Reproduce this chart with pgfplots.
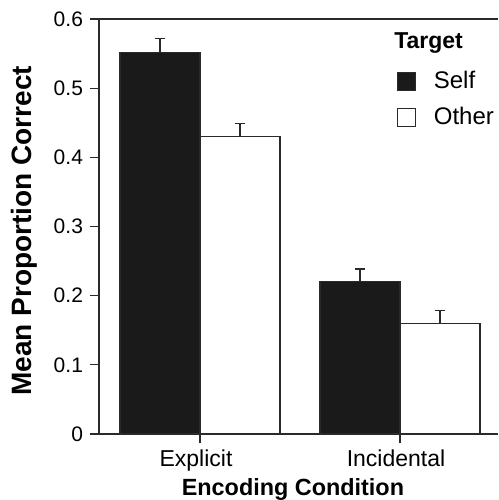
\documentclass[border=0pt]{standalone}
\usepackage{pgfplots}
\pgfplotsset{compat=1.18}
\usepackage{fontspec}
\setmainfont{Liberation Sans}
\definecolor{barblack}{HTML}{1A1A1A}
\definecolor{axgray}{HTML}{2A2A2A}
\pgfplotsset{sqlegend/.style={legend image code/.code={\draw[##1, line width=0.6pt] (0pt,-4.5pt) rectangle (9pt,4.5pt);}}}
\begin{document}
\begin{tikzpicture}[font=\fontsize{11}{13}\selectfont]
\begin{axis}[
  scale only axis, width=199.5pt, height=207.5pt,
  xmin=-0.505, xmax=1.49, ymin=0, ymax=0.6,
  axis x line*=bottom, axis y line*=left,
  axis line style={axgray, line width=0.6pt, -},
  ybar=0pt, bar width=0.4,
  xtick={0,1}, xticklabels={Explicit,Incidental},
  ytick={0,0.1,0.2,0.3,0.4,0.5,0.6},
  yticklabel style={/pgf/number format/fixed, /pgf/number format/precision=1, font=\fontsize{10.5}{12}\selectfont},
  xticklabel style={font=\fontsize{11.5}{13}\selectfont, xshift=-2pt},
  /pgf/number format/assume math mode=true,
  tick align=outside, major tick length=4.5pt,
  tick style={axgray, line width=0.6pt},
  xlabel={\textbf{Encoding Condition}},
  ylabel={\textbf{Mean Proportion Correct}},
  xlabel style={at={(axis description cs:0.486,0)}, anchor=base, yshift=-30.5pt, font=\fontsize{11.7}{13}\selectfont},
  ylabel style={at={(axis description cs:-0.187,0.49)}, anchor=center, rotate=0, font=\fontsize{14}{16}\selectfont},
  legend style={at={(rel axis cs:0.745,0.885)}, anchor=north west, draw=none, fill=none,
    row sep=4pt, column sep=7pt, inner sep=0pt, nodes={anchor=west}, font=\fontsize{12}{14}\selectfont},
  legend cell align=left,
  clip=false,
]
\addplot[fill=barblack, draw=axgray, line width=0.6pt, sqlegend,
  error bars/.cd, y dir=plus, y explicit,
  error bar style={line width=0.6pt, draw=axgray},
  error mark options={rotate=90, mark size=2.6pt, line width=0.6pt, draw=axgray}]
  coordinates {(0,0.551) +- (0,0.021) (1,0.220) +- (0,0.0185)};
\addlegendentry{Self}
\addplot[fill=white, draw=axgray, line width=0.6pt, sqlegend,
  error bars/.cd, y dir=plus, y explicit,
  error bar style={line width=0.6pt, draw=axgray},
  error mark options={rotate=90, mark size=2.6pt, line width=0.6pt, draw=axgray}]
  coordinates {(0,0.430) +- (0,0.019) (1,0.160) +- (0,0.019)};
\addlegendentry{Other}
\draw[axgray, line width=0.6pt] (rel axis cs:0,1) -- (rel axis cs:1,1);
\node[anchor=base west, inner sep=0pt, font=\fontsize{11.5}{13}\selectfont\bfseries] at (rel axis cs:0.739,0.928) {Target};
\end{axis}
\pgfresetboundingbox
\path (current axis.south west) ++(-49.5pt,-33pt) coordinate (bl);
\path (current axis.north east) ++(0pt,9.5pt) coordinate (tr);
\path[use as bounding box] (bl) rectangle (tr);
\end{tikzpicture}
\end{document}
